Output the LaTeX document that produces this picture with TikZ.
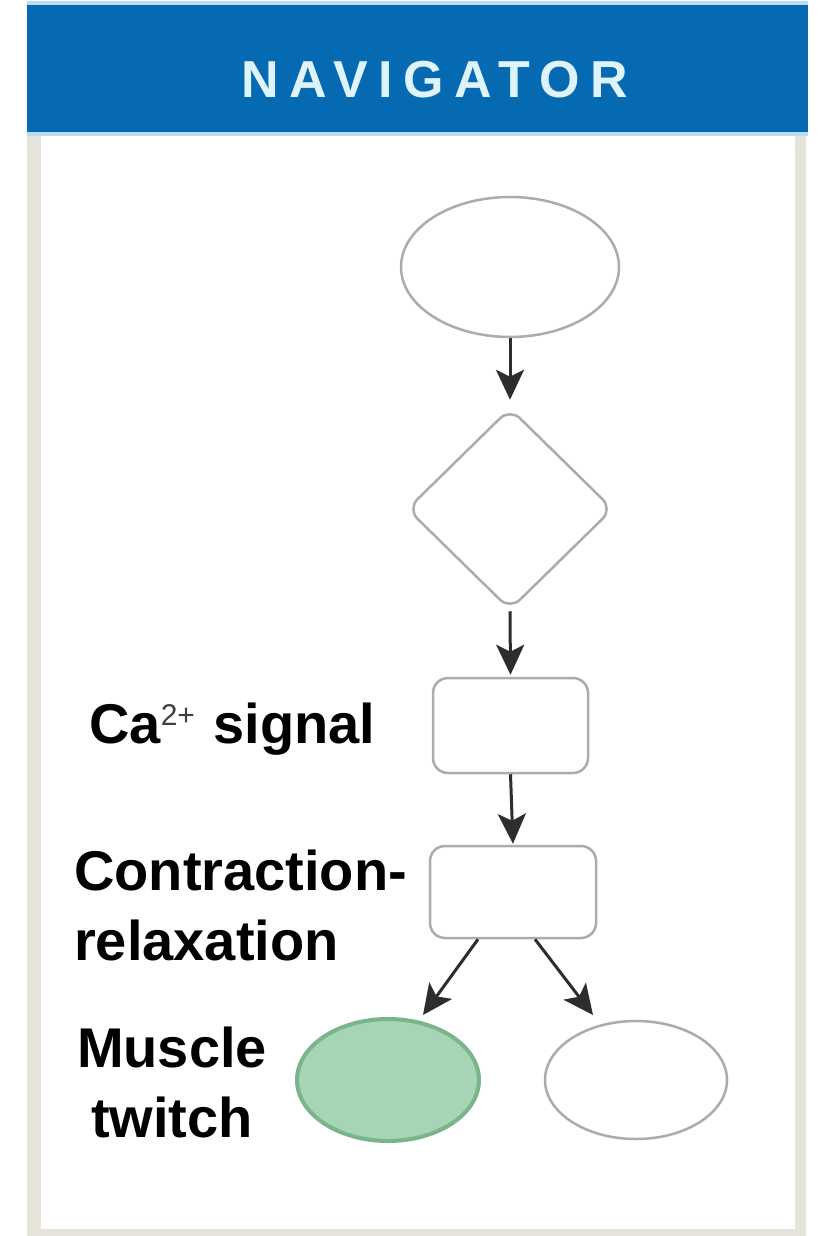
\documentclass[tikz,border=0pt]{standalone}
\usepackage{fontspec}
\setmainfont{Liberation Sans}
\newfontfamily\navfont[LetterSpace=20]{Liberation Sans}
\usetikzlibrary{shapes.geometric,arrows.meta,calc}
\definecolor{navblue}{RGB}{5,106,178}
\definecolor{navline}{RGB}{184,220,242}
\definecolor{navtext}{RGB}{222,243,250}
\definecolor{panelgray}{RGB}{230,228,218}
\definecolor{nodegray}{RGB}{172,172,172}
\definecolor{greenfill}{RGB}{165,213,180}
\definecolor{greendraw}{RGB}{122,180,138}
\definecolor{arrowgray}{RGB}{45,45,45}
\tikzset{
  oval/.style={ellipse, draw=nodegray, line width=2.5pt, inner sep=0pt, fill=white},
  dia/.style={diamond, draw=nodegray, line width=2.5pt, rounded corners=14pt, inner sep=0pt, fill=white},
  box/.style={rectangle, draw=nodegray, line width=2.5pt, rounded corners=15pt, inner sep=0pt, fill=white},
  lab/.style={font=\bfseries\fontsize{56}{70}\selectfont, inner sep=0pt, text=black},
  conn/.style={draw=arrowgray, line width=3pt, -{Stealth[length=30pt,width=28pt,inset=7pt]}}
}
\begin{document}
\begin{tikzpicture}[x=1pt,y=1pt]
\useasboundingbox (0,0) rectangle (817,-1236);
\fill[white] (0,0) rectangle (817,-1236);
% panel
\fill[panelgray] (27,-132) rectangle (806,-1236);
\fill[white] (41,-136) rectangle (795,-1229);
% header
\fill[navline] (27,-1) rectangle (808,-136);
\fill[navblue] (27,-5) rectangle (808,-132);
\node[font=\navfont\bfseries\fontsize{52}{52}\selectfont, text=navtext, inner sep=0pt] (title) at (435,-80) {NAVIGATOR};
% nodes
\node[oval, minimum width=218pt, minimum height=140pt] (top) at (510,-267) {};
\node[dia, minimum width=206pt, minimum height=202pt] (dec) at (510,-509) {};
\node[box, minimum width=155pt, minimum height=95pt] (ca) at (510.5,-725.5) {};
\node[box, minimum width=166pt, minimum height=92pt] (cr) at (513,-892) {};
\node[oval, fill=greenfill, draw=greendraw, line width=4pt, minimum width=182pt, minimum height=122pt] (twitch) at (388,-1080) {};
\node[oval, minimum width=182pt, minimum height=118pt] (other) at (636,-1080) {};
% connectors
\draw[conn, shorten >=7pt] (top.south) -- (dec.north);
\draw[conn, shorten >=2pt] (dec.south) -- (ca.north);
\draw[conn, shorten >=1pt] (ca.south) -- (cr.north);
\coordinate (e1) at (423,-1015);
\coordinate (e2) at (593,-1015);
\draw[conn] ($(cr.south)+(-35,0)$) -- (e1);
\draw[conn] ($(cr.south)+(22,0)$) -- (e2);
% labels
\node[lab, anchor=base west] (lca) at (89,-743) {Ca\raisebox{18pt}{\mdseries\fontsize{30}{30}\selectfont\textcolor{black!75}{2+}}\hspace{3pt} signal};
\node[lab, anchor=base west, align=left] (lcr) at (74,-960) {Contraction-\\relaxation};
\node[lab, anchor=base, align=center] (lmt) at (172,-1137) {Muscle\\twitch};
\end{tikzpicture}
\end{document}
